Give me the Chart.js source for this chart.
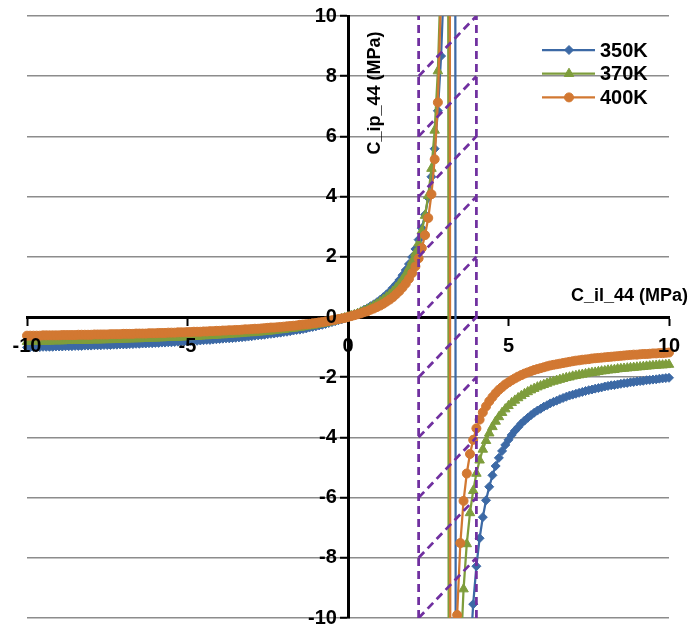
<!DOCTYPE html>
<html>
<head>
<meta charset="utf-8">
<title>C_ip_44 vs C_il_44</title>
<script src="https://cdn.jsdelivr.net/npm/chart.js@4.4.1/dist/chart.umd.min.js"></script>
<style>
  html, body { margin: 0; padding: 0; background: #fff; }
</style>
</head>
<body>
<canvas id="chart" width="691" height="633"></canvas>
<script>
// C_il_44 (MPa), same x points for the three temperatures
const xValues = [
  -10, -9.9, -9.8, -9.7, -9.6, -9.5, -9.4, -9.3, -9.2, -9.1,
  -9, -8.9, -8.8, -8.7, -8.6, -8.5, -8.4, -8.3, -8.2, -8.1,
  -8, -7.9, -7.8, -7.7, -7.6, -7.5, -7.4, -7.3, -7.2, -7.1,
  -7, -6.9, -6.8, -6.7, -6.6, -6.5, -6.4, -6.3, -6.2, -6.1,
  -6, -5.9, -5.8, -5.7, -5.6, -5.5, -5.4, -5.3, -5.2, -5.1,
  -5, -4.9, -4.8, -4.7, -4.6, -4.5, -4.4, -4.3, -4.2, -4.1,
  -4, -3.9, -3.8, -3.7, -3.6, -3.5, -3.4, -3.3, -3.2, -3.1,
  -3, -2.9, -2.8, -2.7, -2.6, -2.5, -2.4, -2.3, -2.2, -2.1,
  -2, -1.9, -1.8, -1.7, -1.6, -1.5, -1.4, -1.3, -1.2, -1.1,
  -1, -0.9, -0.8, -0.7, -0.6, -0.5, -0.4, -0.3, -0.2, -0.1,
  0, 0.1, 0.2, 0.3, 0.4, 0.5, 0.6, 0.7, 0.8, 0.9,
  1, 1.1, 1.2, 1.3, 1.4, 1.5, 1.6, 1.7, 1.8, 1.9,
  2, 2.1, 2.2, 2.3, 2.4, 2.5, 2.6, 2.7, 2.8, 2.9,
  3, 3.1, 3.2, 3.3, 3.4, 3.5, 3.6, 3.7, 3.8, 3.9,
  4, 4.1, 4.2, 4.3, 4.4, 4.5, 4.6, 4.7, 4.8, 4.9,
  5, 5.1, 5.2, 5.3, 5.4, 5.5, 5.6, 5.7, 5.8, 5.9,
  6, 6.1, 6.2, 6.3, 6.4, 6.5, 6.6, 6.7, 6.8, 6.9,
  7, 7.1, 7.2, 7.3, 7.4, 7.5, 7.6, 7.7, 7.8, 7.9,
  8, 8.1, 8.2, 8.3, 8.4, 8.5, 8.6, 8.7, 8.8, 8.9,
  9, 9.1, 9.2, 9.3, 9.4, 9.5, 9.6, 9.7, 9.8, 9.9,
  10
];

// C_ip_44 (MPa)
const y350K = [
  -1.01, -1.00, -1.00, -1.00, -1.00, -0.99, -0.99, -0.99, -0.99, -0.98,
  -0.98, -0.98, -0.97, -0.97, -0.97, -0.96, -0.96, -0.96, -0.95, -0.95,
  -0.95, -0.94, -0.94, -0.94, -0.93, -0.93, -0.93, -0.92, -0.92, -0.91,
  -0.91, -0.91, -0.90, -0.90, -0.89, -0.89, -0.88, -0.88, -0.87, -0.87,
  -0.86, -0.86, -0.85, -0.85, -0.84, -0.84, -0.83, -0.82, -0.82, -0.81,
  -0.81, -0.80, -0.79, -0.79, -0.78, -0.77, -0.76, -0.76, -0.75, -0.74,
  -0.73, -0.72, -0.71, -0.71, -0.70, -0.69, -0.68, -0.67, -0.66, -0.65,
  -0.64, -0.62, -0.61, -0.60, -0.59, -0.57, -0.56, -0.55, -0.53, -0.52,
  -0.50, -0.49, -0.47, -0.45, -0.43, -0.42, -0.40, -0.38, -0.35, -0.33,
  -0.31, -0.28, -0.26, -0.23, -0.20, -0.17, -0.14, -0.11, -0.08, -0.04,
  0, 0.04, 0.09, 0.13, 0.18, 0.24, 0.29, 0.36, 0.42, 0.49,
  0.57, 0.66, 0.75, 0.85, 0.97, 1.09, 1.23, 1.39, 1.56, 1.76,
  1.99, 2.26, 2.57, 2.95, 3.40, 3.96, 4.66, 5.59, 6.85, 8.67,
  11.53, 16.68, 28.69, 88.77, -91.46, -31.38, -19.37, -14.22, -11.36, -9.54,
  -8.28, -7.35, -6.65, -6.09, -5.64, -5.26, -4.95, -4.68, -4.45, -4.25,
  -4.08, -3.92, -3.78, -3.66, -3.54, -3.44, -3.35, -3.26, -3.18, -3.11,
  -3.05, -2.98, -2.93, -2.87, -2.82, -2.78, -2.73, -2.69, -2.65, -2.61,
  -2.58, -2.55, -2.52, -2.49, -2.46, -2.43, -2.41, -2.38, -2.36, -2.34,
  -2.31, -2.29, -2.27, -2.26, -2.24, -2.22, -2.20, -2.19, -2.17, -2.16,
  -2.14, -2.13, -2.12, -2.10, -2.09, -2.08, -2.07, -2.05, -2.04, -2.03,
  -2.02
];
const y370K = [
  -0.82, -0.82, -0.82, -0.81, -0.81, -0.81, -0.81, -0.81, -0.80, -0.80,
  -0.80, -0.80, -0.79, -0.79, -0.79, -0.79, -0.78, -0.78, -0.78, -0.78,
  -0.77, -0.77, -0.77, -0.77, -0.76, -0.76, -0.76, -0.75, -0.75, -0.75,
  -0.74, -0.74, -0.74, -0.73, -0.73, -0.73, -0.72, -0.72, -0.71, -0.71,
  -0.71, -0.70, -0.70, -0.69, -0.69, -0.69, -0.68, -0.68, -0.67, -0.67,
  -0.66, -0.66, -0.65, -0.65, -0.64, -0.63, -0.63, -0.62, -0.62, -0.61,
  -0.60, -0.60, -0.59, -0.58, -0.57, -0.57, -0.56, -0.55, -0.54, -0.53,
  -0.53, -0.52, -0.51, -0.50, -0.49, -0.48, -0.47, -0.45, -0.44, -0.43,
  -0.42, -0.40, -0.39, -0.38, -0.36, -0.35, -0.33, -0.31, -0.30, -0.28,
  -0.26, -0.24, -0.22, -0.20, -0.17, -0.15, -0.12, -0.09, -0.06, -0.03,
  0, 0.04, 0.07, 0.11, 0.16, 0.20, 0.25, 0.31, 0.37, 0.43,
  0.50, 0.57, 0.66, 0.75, 0.85, 0.97, 1.10, 1.25, 1.42, 1.62,
  1.85, 2.12, 2.45, 2.86, 3.37, 4.03, 4.93, 6.20, 8.17, 11.60,
  19.06, 47.83, -115.2, -27.42, -15.97, -11.45, -9.04, -7.54, -6.51, -5.77,
  -5.20, -4.76, -4.40, -4.11, -3.86, -3.65, -3.47, -3.32, -3.18, -3.06,
  -2.95, -2.85, -2.77, -2.69, -2.62, -2.55, -2.49, -2.43, -2.38, -2.33,
  -2.29, -2.25, -2.21, -2.17, -2.14, -2.11, -2.08, -2.05, -2.02, -2.00,
  -1.97, -1.95, -1.93, -1.91, -1.89, -1.87, -1.85, -1.84, -1.82, -1.80,
  -1.79, -1.77, -1.76, -1.75, -1.73, -1.72, -1.71, -1.70, -1.69, -1.68,
  -1.67, -1.66, -1.65, -1.64, -1.63, -1.62, -1.61, -1.60, -1.60, -1.59,
  -1.58
];
const y400K = [
  -0.62, -0.62, -0.62, -0.62, -0.62, -0.61, -0.61, -0.61, -0.61, -0.61,
  -0.61, -0.60, -0.60, -0.60, -0.60, -0.60, -0.59, -0.59, -0.59, -0.59,
  -0.59, -0.58, -0.58, -0.58, -0.58, -0.58, -0.57, -0.57, -0.57, -0.57,
  -0.56, -0.56, -0.56, -0.56, -0.55, -0.55, -0.55, -0.55, -0.54, -0.54,
  -0.54, -0.53, -0.53, -0.53, -0.52, -0.52, -0.52, -0.51, -0.51, -0.51,
  -0.50, -0.50, -0.49, -0.49, -0.49, -0.48, -0.48, -0.47, -0.47, -0.46,
  -0.46, -0.45, -0.45, -0.44, -0.44, -0.43, -0.43, -0.42, -0.41, -0.41,
  -0.40, -0.39, -0.39, -0.38, -0.37, -0.36, -0.35, -0.35, -0.34, -0.33,
  -0.32, -0.31, -0.30, -0.29, -0.28, -0.26, -0.25, -0.24, -0.23, -0.21,
  -0.20, -0.18, -0.17, -0.15, -0.13, -0.11, -0.09, -0.07, -0.05, -0.03,
  0, 0.03, 0.06, 0.09, 0.12, 0.16, 0.19, 0.24, 0.28, 0.33,
  0.38, 0.44, 0.51, 0.58, 0.66, 0.76, 0.86, 0.98, 1.11, 1.27,
  1.46, 1.68, 1.95, 2.29, 2.72, 3.29, 4.08, 5.24, 7.13, 10.74,
  20.38, 126.3, -32.6, -14.94, -9.90, -7.51, -6.11, -5.20, -4.55, -4.08,
  -3.70, -3.41, -3.17, -2.97, -2.80, -2.66, -2.53, -2.42, -2.33, -2.24,
  -2.17, -2.10, -2.04, -1.98, -1.93, -1.88, -1.84, -1.80, -1.76, -1.73,
  -1.70, -1.67, -1.64, -1.61, -1.59, -1.57, -1.55, -1.53, -1.51, -1.49,
  -1.47, -1.45, -1.44, -1.42, -1.41, -1.40, -1.38, -1.37, -1.36, -1.35,
  -1.34, -1.33, -1.32, -1.31, -1.30, -1.29, -1.28, -1.27, -1.26, -1.25,
  -1.25, -1.24, -1.23, -1.23, -1.22, -1.21, -1.21, -1.20, -1.20, -1.19,
  -1.18
];

const seriesLabels = ['350K', '370K', '400K'];
const xTicks = [-10, -5, 0, 5, 10];
const yTicks = [-10, -8, -6, -4, -2, 0, 2, 4, 6, 8, 10];

// hatched band between these C_il_44 values
const bandEdges = [2.2, 4.0];
const hatchStarts = [-10, -8, -6, -4, -2, 0, 2, 4, 6, 8];
const hatchRise = 2;

const FONT = '"Liberation Sans", Arial, sans-serif';
const PURPLE = '#7030A0';

function series(label, ys, color, style, radius, order) {
  return {
    label: label,
    data: xValues.map((x, i) => ({ x: x, y: ys[i] })),
    showLine: true,
    borderColor: color,
    backgroundColor: color,
    borderWidth: 2.25,
    pointStyle: style,
    pointRadius: radius,
    pointBorderWidth: 1,
    pointBorderColor: color,
    pointBackgroundColor: color,
    clip: { left: 8, right: 8, top: 0, bottom: 0 },
    order: order,
    inLegend: true
  };
}

function dashed(points) {
  return {
    data: points,
    showLine: true,
    borderColor: PURPLE,
    borderWidth: 2.75,
    borderDash: [8, 5],
    pointRadius: 0,
    order: 0,
    inLegend: false
  };
}

const datasets = [
  series(seriesLabels[0], y350K, '#3C69A5', 'rectRot', 4.5, 3),
  series(seriesLabels[1], y370K, '#7E9D3C', 'triangle', 5.5, 2),
  series(seriesLabels[2], y400K, '#D27832', 'circle', 4.5, 1)
];
bandEdges.forEach(x => {
  datasets.push(dashed([{ x: x, y: yTicks[0] }, { x: x, y: yTicks[yTicks.length - 1] }]));
});
hatchStarts.forEach(y0 => {
  datasets.push(dashed([{ x: bandEdges[0], y: y0 }, { x: bandEdges[1], y: y0 + hatchRise }]));
});

// legend in the top right corner of the plot
const cornerLegend = {
  id: 'cornerLegend',
  afterDraw(chart) {
    const ctx = chart.ctx;
    const items = chart.data.datasets.filter(d => d.inLegend);
    ctx.save();
    items.forEach((ds, i) => {
      const y = 50 + i * 23.7;
      ctx.strokeStyle = ds.borderColor;
      ctx.lineWidth = 2.25;
      ctx.setLineDash([]);
      ctx.beginPath();
      ctx.moveTo(542, y);
      ctx.lineTo(595, y);
      ctx.stroke();
      ctx.fillStyle = ds.borderColor;
      ctx.lineWidth = 1;
      Chart.helpers.drawPoint(ctx, { pointStyle: ds.pointStyle, radius: ds.pointRadius, borderWidth: 1, rotation: 0 }, 569, y);
      ctx.fillStyle = '#000';
      ctx.font = 'bold 20px ' + FONT;
      ctx.textAlign = 'left';
      ctx.textBaseline = 'middle';
      ctx.fillText(ds.label, 600, y + 1);
    });
    ctx.restore();
  }
};

// axis titles sit inside the plot, next to the axes
const axisTitles = {
  id: 'axisTitles',
  afterDraw(chart) {
    const ctx = chart.ctx;
    const xs = chart.scales.x, ys = chart.scales.y;
    ctx.save();
    ctx.fillStyle = '#000';
    ctx.font = 'bold 18px ' + FONT;
    ctx.textBaseline = 'middle';
    ctx.textAlign = 'right';
    ctx.fillText('C_il_44 (MPa)', 688, ys.getPixelForValue(0) - 21);
    ctx.translate(xs.getPixelForValue(0) + 27, 93);
    ctx.rotate(-Math.PI / 2);
    ctx.textAlign = 'center';
    ctx.fillText('C_ip_44 (MPa)', 0, 0);
    ctx.restore();
  }
};

const tickFont = { family: FONT, size: 20, weight: 'bold' };

new Chart(document.getElementById('chart'), {
  type: 'scatter',
  data: { datasets: datasets },
  options: {
    responsive: false,
    animation: false,
    events: [],
    layout: { padding: { left: 27, right: 22, top: 16, bottom: 13 } },
    plugins: {
      legend: { display: false },
      tooltip: { enabled: false }
    },
    scales: {
      x: {
        type: 'linear',
        min: -10,
        max: 10,
        position: { y: 0 },
        afterBuildTicks: s => { s.ticks = xTicks.map(v => ({ value: v })); },
        grid: { drawOnChartArea: false, drawTicks: true, tickLength: 7, tickWidth: 2, tickColor: '#000' },
        border: { display: true, color: '#000', width: 3 },
        ticks: { font: tickFont, color: '#000', padding: 10, maxRotation: 0, autoSkip: false, z: 1 }
      },
      y: {
        type: 'linear',
        min: -10,
        max: 10,
        position: { x: 0 },
        afterBuildTicks: s => { s.ticks = yTicks.map(v => ({ value: v })); },
        grid: {
          color: c => (c.tick && c.tick.value === 0) ? 'rgba(0,0,0,0)' : '#8c8c8c',
          lineWidth: 1.5,
          drawTicks: true,
          tickLength: 7,
          tickWidth: 2,
          tickColor: '#000'
        },
        border: { display: true, color: '#000', width: 3 },
        // labels are anchored on the axis line, trailing spaces keep them clear of it
        ticks: { font: tickFont, color: '#000', autoSkip: false, z: 1, callback: v => v + '  ' }
      }
    }
  },
  plugins: [cornerLegend, axisTitles]
});
</script>
</body>
</html>
